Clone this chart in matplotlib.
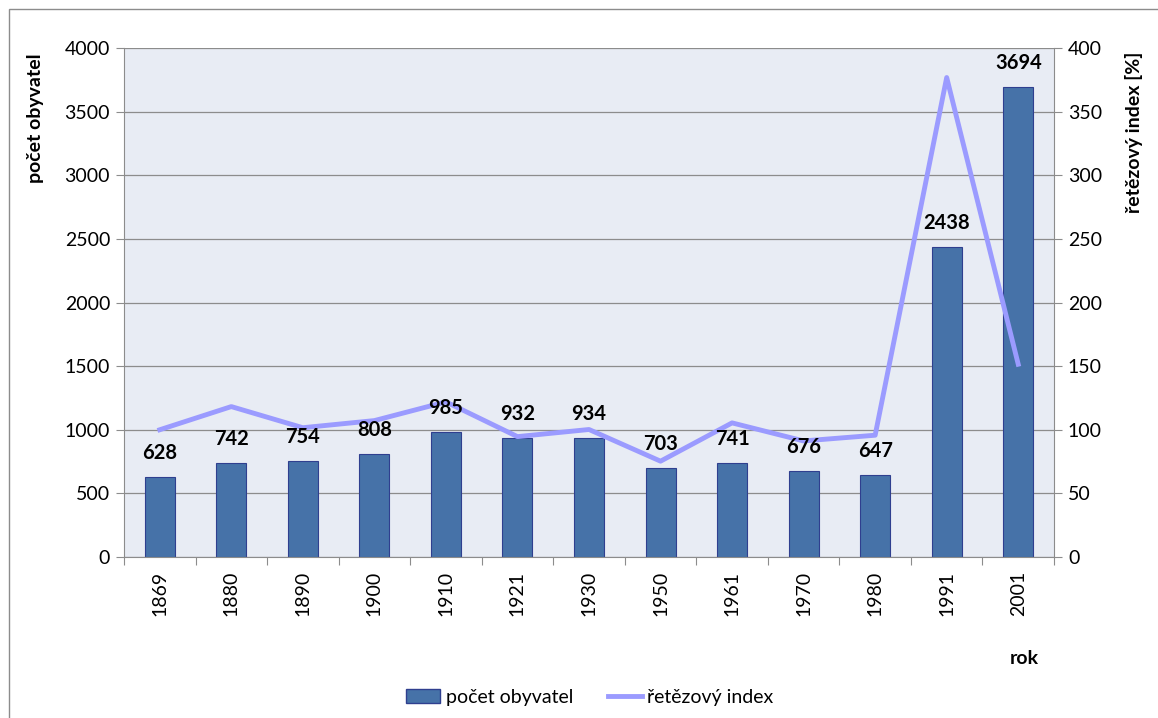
# Population of the municipality with the chain index on a secondary axis.

import matplotlib.pyplot as plt
from matplotlib.patches import Rectangle
from matplotlib.lines import Line2D

# Census years and values.
years = ["1869", "1880", "1890", "1900", "1910", "1921", "1930",
         "1950", "1961", "1970", "1980", "1991", "2001"]
population = [628, 742, 754, 808, 985, 932, 934, 703, 741, 676, 647, 2438, 3694]
chain_index = [100, 118.2, 101.6, 107.2, 121.9, 94.6, 100.2, 75.3, 105.4, 91.2, 95.7, 376.8, 151.5]

plt.rcParams["font.family"] = ["Lato", "DejaVu Sans"]

bar_color = "#4672A8"
bar_edge = "#2F3F8F"
line_color = "#9B9BFF"
grid_color = "#8C8C8C"

fig = plt.figure(figsize=(11.58, 7.18), dpi=100)

# Thin outer frame like the spreadsheet chart border.
fig.patches.append(Rectangle((9 / 1158, -0.1), 1.2, 1 - 9 / 718 + 0.1,
                             transform=fig.transFigure, fill=False,
                             edgecolor="#8C8C8C", linewidth=1.0))

ax = fig.add_axes([124 / 1158, 1 - 557 / 718, 930 / 1158, 509 / 718])
ax.set_facecolor("#E8ECF4")

x = list(range(len(years)))

# Bars for population.
ax.bar(x, population, width=0.42, color=bar_color, edgecolor=bar_edge,
       linewidth=0.8, zorder=2)

ax.set_xlim(-0.5, len(years) - 0.5)
ax.set_ylim(0, 4000)
ax.set_yticks(range(0, 4001, 500))
ax.yaxis.grid(True, color=grid_color, linewidth=0.9, zorder=0)
ax.set_axisbelow(True)

# Category ticks sit between the bars.
ax.set_xticks([i - 0.5 for i in range(len(years) + 1)], minor=False)
ax.set_xticklabels([])
ax.set_xticks(x, minor=True)
ax.set_xticklabels(years, minor=True, rotation=90, fontsize=14)
ax.tick_params(axis="x", which="major", length=6, color=grid_color)
ax.tick_params(axis="x", which="minor", length=0, pad=10)
ax.tick_params(axis="y", length=6, color=grid_color, labelsize=14, pad=4)

for side in ["top", "right"]:
    ax.spines[side].set_visible(False)
for side in ["left", "bottom"]:
    ax.spines[side].set_color(grid_color)

# Secondary axis with the chain index line.
ax2 = ax.twinx()
ax2.plot(x, chain_index, color=line_color, linewidth=3.5, zorder=3)
ax2.set_ylim(0, 400)
ax2.set_yticks(range(0, 401, 50))
ax2.tick_params(axis="y", length=6, color=grid_color, labelsize=14, pad=4)
for side in ["top", "left", "bottom"]:
    ax2.spines[side].set_visible(False)
ax2.spines["right"].set_color(grid_color)

# Data labels above the bars, drawn on top of the line.
for xi, val in zip(x, population):
    ax2.text(xi, val + 110, str(val), ha="center", va="bottom",
             fontsize=14.5, fontweight="bold", zorder=5,
             transform=ax.transData)

# Axis titles sit near the top of each value axis.
fig.text(35 / 1158, 1 - 118 / 718, "počet obyvatel", rotation=90,
         ha="center", va="center", fontsize=14, fontweight="bold")
fig.text(1134 / 1158, 1 - 132 / 718, "řetězový index [%]", rotation=90,
         ha="center", va="center", fontsize=14, fontweight="bold")

# Axis title for years sits at the lower right.
fig.text(1024 / 1158, 1 - 658 / 718, "rok", ha="center", va="center",
         fontsize=14, fontweight="bold")

# Legend at the bottom.
handles = [Rectangle((0, 0), 1, 1, facecolor=bar_color, edgecolor=bar_edge),
           Line2D([0], [0], color=line_color, linewidth=3.5)]
fig.legend(handles, ["počet obyvatel", "řetězový index"], loc="center",
           bbox_to_anchor=(590 / 1158, 1 - 697 / 718), ncol=2, frameon=False,
           fontsize=14, handlelength=1.75, columnspacing=1.75,
           handletextpad=0.3)

fig.savefig("out.png", dpi=100)
plt.close(fig)
